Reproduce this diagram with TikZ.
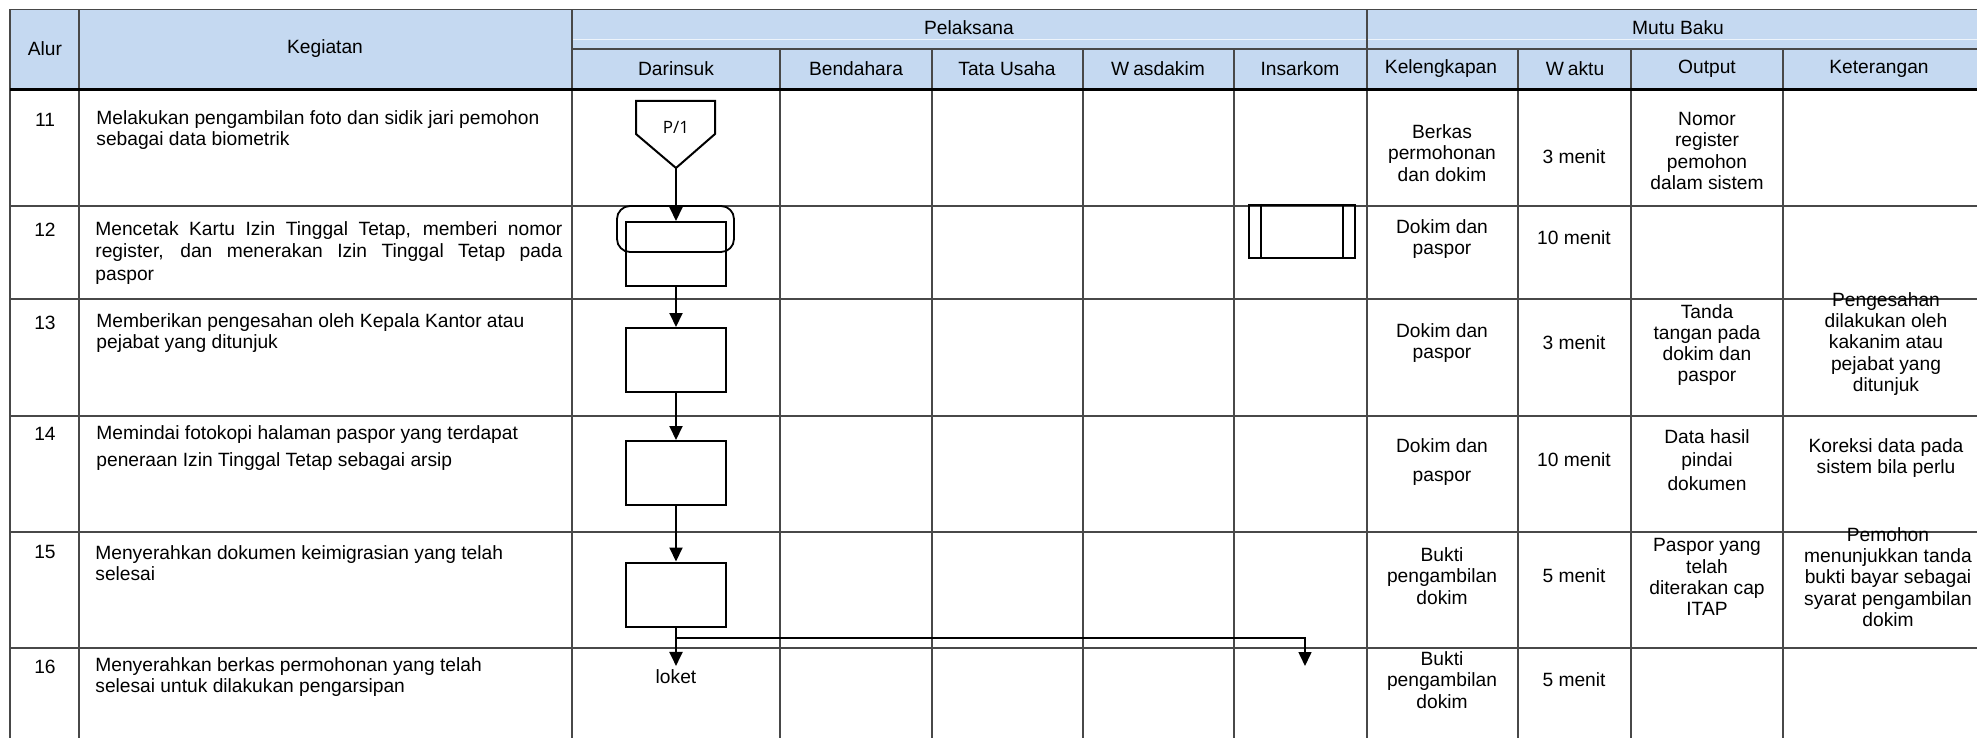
\documentclass[tikz,border=0pt]{standalone}
\usepackage{fontspec}
\setmainfont{Liberation Sans}
\newfontfamily\connfont{Open Sans}
\usepackage{tikz}
\usetikzlibrary{arrows.meta,positioning,calc}
\usepackage{xcolor}
\definecolor{headblue}{RGB}{197,217,241}
\definecolor{gridgray}{RGB}{72,72,72}
\newcommand\tabfont{\fontsize{9.6}{10.6}\selectfont}

\begin{document}
\begin{tikzpicture}[
  x=0.5pt,y=-0.5pt,>={Triangle[length=7pt,width=6.5pt]},
  tabline/.style={draw=gridgray,line width=.7pt},
  headline/.style={draw=black,line width=1.5pt},
  flow/.style={->,line width=1pt},
  proc/.style={draw,line width=1pt,minimum width=50pt,minimum height=32pt,inner sep=0pt},
  term/.style={draw,line width=.9pt,rounded corners=6.5pt,minimum width=58.5pt,
    minimum height=23pt,inner sep=0pt},
  predef/.style={draw,line width=1pt,minimum width=53pt,minimum height=26.5pt,inner sep=0pt},
  head/.style={font=\tabfont,inner sep=0pt},
  num/.style={font=\tabfont,inner sep=0pt},
  cell/.style={font=\tabfont,align=center,inner sep=0pt},
  act/.style={font=\tabfont,align=left,anchor=west,inner sep=0pt}]
\useasboundingbox (0,0) rectangle (1977,738);
\clip (0,0) rectangle (1977,738);
\fill[headblue] (10,9.5) rectangle (1995,89.5);
\draw[headblue!30,line width=.5pt] (572,40) -- (1995,40);
\draw[tabline] (10,9.5) -- (1995,9.5);
\draw[tabline] (572,49) -- (1995,49);
\draw[tabline] (10,206) -- (1995,206);
\draw[tabline] (10,299) -- (1995,299);
\draw[tabline] (10,416) -- (1995,416);
\draw[tabline] (10,532) -- (1995,532);
\draw[tabline] (10,648) -- (1995,648);
\draw[tabline] (10,9.5) -- (10,745);
\draw[tabline] (79,9.5) -- (79,745);
\draw[tabline] (572,9.5) -- (572,745);
\draw[tabline] (1367,9.5) -- (1367,745);
\draw[tabline] (780,49) -- (780,745);
\draw[tabline] (932,49) -- (932,745);
\draw[tabline] (1083,49) -- (1083,745);
\draw[tabline] (1234,49) -- (1234,745);
\draw[tabline] (1518,49) -- (1518,745);
\draw[tabline] (1631,49) -- (1631,745);
\draw[tabline] (1783,49) -- (1783,745);
\draw[headline] (10,89.5) -- (1995,89.5);
\node[head] (alur) at (45,49) {Alur};
\node[head] (kegiatan) at (325,49) {Kegiatan};
\node[head] (pelaksana) at (969,28) {Pelaksana};
\node[head] (mutubaku) at (1678,28) {Mutu Baku};
\node[head] (darinsuk) at (676,69) {Darinsuk};
\node[head] (bendahara) at (856,69) {Bendahara};
\node[head] (tatausaha) at (1007,69) {Tata Usaha};
\node[head] (wasdakim) at (1158,69) {W\kern2pt asdakim};
\node[head] (insarkom) at (1300,69) {Insarkom};
\node[head] (kelengkapan) at (1441,69) {Kelengkapan};
\node[head] (waktu) at (1575,69) {W\kern2pt aktu};
\node[head] (output) at (1707,69) {Output};
\node[head] (keterangan) at (1879,69) {Keterangan};
\node[num] (n11) at (45,120) {11};
\node[num] (n12) at (45,230) {12};
\node[num] (n13) at (45,323) {13};
\node[num] (n14) at (45,434) {14};
\node[num] (n15) at (45,552) {15};
\node[num] (n16) at (45,667) {16};
\node[act] (k11) at (96,130) {Melakukan pengambilan foto dan sidik jari pemohon\\sebagai data biometrik};
\node[act] (k12) at (95,253) {\makebox[233.5pt][s]{Mencetak Kartu Izin Tinggal Tetap, memberi nomor}\\[0.6pt]
 \makebox[233.5pt][s]{register, dan menerakan Izin Tinggal Tetap pada}\\[0.6pt]paspor};
\node[act] (k13) at (96,333) {Memberikan pengesahan oleh Kepala Kantor atau\\pejabat yang ditunjuk};
\node[act] (k14) at (96,448) {Memindai fotokopi halaman paspor yang terdapat\\[3pt]peneraan Izin Tinggal Tetap sebagai arsip};
\node[act] (k15) at (95,563) {Menyerahkan dokumen keimigrasian yang telah\\selesai};
\node[act] (k16) at (95,677) {Menyerahkan berkas permohonan yang telah\\selesai untuk dilakukan pengarsipan};
\node[cell] (kel11) at (1442,153) {Berkas\\permohonan\\dan dokim};
\node[cell] (wkt11) at (1574,157) {3 menit};
\node[cell] (out11) at (1707,151) {Nomor\\register\\pemohon\\dalam sistem};
\node[cell] (kel12) at (1442,239) {Dokim dan\\paspor};
\node[cell] (wkt12) at (1574,238) {10 menit};
\node[cell] (kel13) at (1442,343) {Dokim dan\\paspor};
\node[cell] (wkt13) at (1574,343) {3 menit};
\node[cell] (out13) at (1707,345) {Tanda\\tangan pada\\dokim dan\\paspor};
\node[cell] (ket13) at (1886,344) {Pengesahan\\dilakukan oleh\\kakanim atau\\pejabat yang\\ditunjuk};
\node[cell] (kel14) at (1442,462) {Dokim dan\\[3.6pt]paspor};
\node[cell] (wkt14) at (1574,460) {10 menit};
\node[cell] (out14) at (1707,460) {Data hasil\\[1pt]pindai\\[1pt]dokumen};
\node[cell] (ket14) at (1886,458) {Koreksi data pada\\sistem bila perlu};
\node[cell] (kel15) at (1442,576) {Bukti\\pengambilan\\dokim};
\node[cell] (wkt15) at (1574,576) {5 menit};
\node[cell] (out15) at (1707,577) {Paspor yang\\telah\\diterakan cap\\ITAP};
\node[cell] (ket15) at (1888,577) {Pemohon\\menunjukkan tanda\\bukti bayar sebagai\\syarat pengambilan\\dokim};
\node[cell] (kel16) at (1442,680) {Bukti\\pengambilan\\dokim};
\node[cell] (wkt16) at (1574,680) {5 menit};
\draw[line width=1pt] (636,101) -- (715,101) -- (715,134) -- (676,168) -- (636,134) -- cycle;
\node[font=\connfont\fontsize{8.5}{10}\selectfont,inner sep=0pt] (p1) at (676,127) {P/1};
\coordinate (p1tip) at (676,168);
\node[proc] (cetak) at (676,254) {};
\node[term] (cetakbox) at (675.5,229) {};
\node[predef] (cetakins) at (1302,231.5) {};
\draw[line width=1pt] ([xshift=6.5pt]cetakins.north west) -- ([xshift=6.5pt]cetakins.south west);
\draw[line width=1pt] ([xshift=-6.5pt]cetakins.north east) -- ([xshift=-6.5pt]cetakins.south east);
\node[proc] (sah) at (676,360) {};
\node[proc] (pindai) at (676,473) {};
\node[proc] (serah) at (676,594.5) {};
\node[num,outer sep=2pt] (loket) at (676,677) {loket};
\coordinate (cabang) at (676,638);
\coordinate (arsip) at (1305,666);
\draw[flow] (p1tip) -- (cetak.north);
\draw[flow] (cetak) -- (sah);
\draw[flow] (sah) -- (pindai);
\draw[flow] (pindai) -- (serah);
\draw[flow] (serah) -- (loket);
\draw[flow,line width=.8pt] (cabang) -| (arsip);
\end{tikzpicture}
\end{document}
